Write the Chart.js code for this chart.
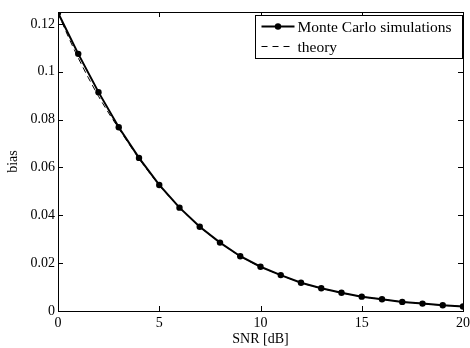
<!DOCTYPE html>
<html>
<head>
<meta charset="utf-8">
<script src="https://cdn.jsdelivr.net/npm/chart.js@4"></script>
<style>
  html, body { margin: 0; padding: 0; background: #fff; }
  #wrap { width: 470px; height: 348px; }
</style>
</head>
<body>
<div id="wrap"><canvas id="myChart"></canvas></div>
<script>
// values
var snr = [0, 1, 2, 3, 4, 5, 6, 7, 8, 9, 10, 11, 12, 13, 14, 15, 16, 17, 18, 19, 20];
var mcBias = [0.1247, 0.1075, 0.0915, 0.0768, 0.0640, 0.0527, 0.0432, 0.0352, 0.0286, 0.0229, 0.0185,
              0.0150, 0.0118, 0.0095, 0.0076, 0.0060, 0.0049, 0.0038, 0.0031, 0.0024, 0.0019];
var theorySnr = [0, 0.5, 1, 1.5, 2, 2.5, 3, 4, 5, 6, 7, 8, 9, 10, 11, 12, 13, 14, 15, 16, 17, 18, 19, 20];
var theoryBias = [0.1247, 0.1148, 0.1058, 0.0975, 0.0898, 0.0828, 0.0763, 0.0637, 0.0526, 0.0432, 0.0352,
                  0.0286, 0.0229, 0.0185, 0.0150, 0.0118, 0.0095, 0.0076, 0.0060, 0.0049, 0.0038, 0.0031, 0.0024, 0.0019];
var xTicks = [0, 5, 10, 15, 20];
var yTicks = [0, 0.02, 0.04, 0.06, 0.08, 0.1, 0.12];
var seriesNames = ['Monte Carlo simulations', 'theory'];

var FONT = 'Liberation Serif';

function toPoints(xs, ys) {
    return xs.map(function (x, i) { return { x: x, y: ys[i] }; });
}

// box, inward ticks and legend drawn like the matlab figure
var matlabFrame = {
    id: 'matlabFrame',
    afterDraw: function (chart) {
        var ctx = chart.ctx;
        var a = chart.chartArea;
        var xs = chart.scales.x, ys = chart.scales.y;
        var tl = 5;
        ctx.save();
        ctx.strokeStyle = '#000';
        ctx.lineWidth = 1;
        ctx.beginPath();
        xTicks.forEach(function (v) {
            var px = Math.round(xs.getPixelForValue(v)) + 0.5;
            ctx.moveTo(px, a.bottom); ctx.lineTo(px, a.bottom - tl);
            ctx.moveTo(px, a.top); ctx.lineTo(px, a.top + tl);
        });
        yTicks.forEach(function (v) {
            var py = Math.round(ys.getPixelForValue(v)) + 0.5;
            ctx.moveTo(a.left, py); ctx.lineTo(a.left + tl, py);
            ctx.moveTo(a.right, py); ctx.lineTo(a.right - tl, py);
        });
        ctx.stroke();
        ctx.strokeRect(Math.round(a.left) + 0.5, Math.round(a.top) + 0.5,
                       Math.round(a.right - a.left), Math.round(a.bottom - a.top));

        // legend
        var bw = 207, bh = 43;
        var bx = Math.round(a.right - bw - 1) + 0.5, by = Math.round(a.top + 3) + 0.5;
        ctx.fillStyle = '#fff';
        ctx.fillRect(bx, by, bw, bh);
        ctx.strokeRect(bx, by, bw, bh);
        ctx.font = '15.5px "' + FONT + '"';
        ctx.textBaseline = 'middle';
        ctx.fillStyle = '#000';
        chart.data.datasets.forEach(function (ds, i) {
            var ly = by + 11 + i * 20;
            ctx.save();
            ctx.strokeStyle = ds.borderColor;
            ctx.lineWidth = ds.borderWidth;
            ctx.setLineDash(ds.borderDash ? [6, 5] : []);
            ctx.beginPath();
            ctx.moveTo(bx + 6, ly); ctx.lineTo(bx + 39, ly);
            ctx.stroke();
            ctx.restore();
            if (ds.pointRadius > 0) {
                ctx.beginPath();
                ctx.arc(bx + 22.5, ly, ds.pointRadius, 0, Math.PI * 2);
                ctx.fill();
            }
            ctx.fillText(ds.label, bx + 42, ly + 1.5);
        });
        ctx.restore();
    }
};

var ctx = document.getElementById('myChart').getContext('2d');
var myChart = new Chart(ctx, {
    type: 'line',
    data: {
        datasets: [{
            label: seriesNames[0],
            data: toPoints(snr, mcBias),
            borderColor: '#000',
            backgroundColor: '#000',
            borderWidth: 2,
            pointRadius: 3.2,
            pointBorderWidth: 0,
            tension: 0
        }, {
            label: seriesNames[1],
            data: toPoints(theorySnr, theoryBias),
            borderColor: '#000',
            borderWidth: 1,
            borderDash: [6, 4],
            pointRadius: 0,
            cubicInterpolationMode: 'monotone'
        }]
    },
    options: {
        responsive: true,
        maintainAspectRatio: false,
        animation: false,
        layout: { padding: { top: 12, right: 7, left: 0, bottom: 0 } },
        plugins: { legend: { display: false }, tooltip: { enabled: false } },
        scales: {
            x: {
                type: 'linear',
                min: 0, max: 20,
                grid: { display: false, drawTicks: false },
                border: { display: false },
                ticks: {
                    stepSize: 5, padding: 4, color: '#000',
                    font: { family: FONT, size: 14 }, maxRotation: 0
                },
                title: {
                    display: true, text: 'SNR [dB]', color: '#000',
                    font: { family: FONT, size: 14 }, padding: { top: 0, bottom: 0 }
                },
                afterFit: function (scale) {
                    scale.height = 37;
                    scale.paddingLeft = 0;
                    scale.paddingRight = 0;
                }
            },
            y: {
                min: 0, max: 0.125,
                grid: { display: false, drawTicks: false },
                border: { display: false },
                afterBuildTicks: function (scale) {
                    scale.ticks = yTicks.map(function (v) { return { value: v }; });
                },
                ticks: {
                    padding: 3, color: '#000',
                    font: { family: FONT, size: 14 },
                    callback: function (v) { return String(+v.toFixed(3)); }
                },
                title: {
                    display: true, text: 'bias', color: '#000',
                    font: { family: FONT, size: 14 }, padding: { top: 5, bottom: 0 }
                },
                afterFit: function (scale) {
                    scale.width = 58;
                    scale.paddingTop = 0;
                    scale.paddingBottom = 0;
                }
            }
        }
    },
    plugins: [matlabFrame]
});
</script>
</body>
</html>
